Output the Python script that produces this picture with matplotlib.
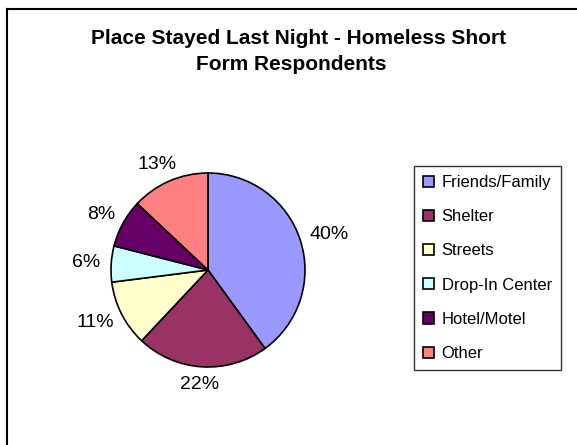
import numpy as np
import matplotlib.pyplot as plt
from matplotlib.lines import Line2D

categories = ['Friends/Family', 'Shelter', 'Streets', 'Drop-In Center', 'Hotel/Motel', 'Other']
shares = [40, 22, 11, 6, 8, 13]
colors = ['#9999FF', '#993366', '#FFFFCC', '#CCFFFF', '#660066', '#FF8080']


def main():
    plt.rcParams['font.family'] = ['Liberation Sans', 'DejaVu Sans']
    W, H = 577, 445
    fig = plt.figure(figsize=(W / 100, H / 100), dpi=100)

    # chart border: only top and left edges are inside the image
    fig.add_artist(Line2D([7 / W, 1], [1 - 9 / H, 1 - 9 / H], color='black', lw=1.5,
                          transform=fig.transFigure))
    fig.add_artist(Line2D([7 / W, 7 / W], [1 - 9 / H, 0], color='black', lw=1.5,
                          transform=fig.transFigure))

    fig.text(299 / W, 1 - 38 / H, 'Place Stayed Last Night - Homeless Short',
             ha='center', va='center', fontsize=15, fontweight='bold')
    fig.text(291 / W, 1 - 65 / H, 'Form Respondents',
             ha='center', va='center', fontsize=15, fontweight='bold')

    # pie centred at (208, 270) px, radius 97 px
    cx, cy, r = 208, 270, 97
    ax = fig.add_axes([(cx - r) / W, (H - cy - r) / H, 2 * r / W, 2 * r / H])
    wedges, _ = ax.pie(shares, colors=colors, startangle=90, counterclock=False,
                       wedgeprops=dict(edgecolor='black', linewidth=1.2))
    ax.set_xlim(-1, 1)
    ax.set_ylim(-1, 1)
    ax.set_aspect('equal')

    # percentage labels sit just outside the rim, pushed out by their own box size
    renderer = fig.canvas.get_renderer()
    gap = 11
    for w, v in zip(wedges, shares):
        ang = np.deg2rad((w.theta1 + w.theta2) / 2)
        t = ax.annotate(f'{v}%', xy=(np.cos(ang), np.sin(ang)), xycoords='data',
                        xytext=(0, 0), textcoords='offset pixels',
                        ha='center', va='center', fontsize=14)
        bb = t.get_window_extent(renderer)
        hw, hh = bb.width / 2, bb.height / 2 * 0.8
        t.set_position(((gap + hw) * np.cos(ang), (gap + hh) * np.sin(ang)))

    leg = fig.legend(wedges, categories, loc='upper left',
                     bbox_to_anchor=(414 / W, 1 - 166 / H),
                     fontsize=12, frameon=True, fancybox=False, edgecolor='black',
                     handlelength=0.65, handleheight=0.65, handletextpad=0.45,
                     labelspacing=1.15, borderpad=0.55, borderaxespad=0)
    leg.get_frame().set_linewidth(1.0)

    fig.savefig('out.png', dpi=100)


if __name__ == '__main__':
    main()
